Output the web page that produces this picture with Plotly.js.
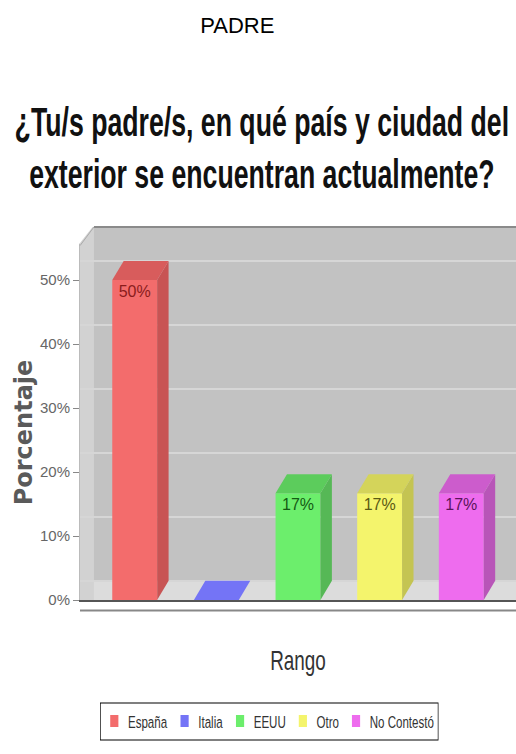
<!DOCTYPE html>
<html><head><meta charset="utf-8">
<script src="https://cdn.plot.ly/plotly-3.0.1.min.js"></script>
<style>html,body{margin:0;padding:0;background:#fff}#chart{width:516px;height:754px}</style>
</head><body><div id="chart"></div>
<script>
const categories = ['España', 'Italia', 'EEUU', 'Otro', 'No Contestó'];
const values = [50, 0, 16.67, 16.67, 16.67];
const frontColors = ['#f36c6c', '#7474f6', '#6cee6c', '#f4f46c', '#ee6cee'];
const sideColors = ['#c85454', '#5a5ad0', '#56b856', '#c4c452', '#b855b8'];
const topColors = ['#d85c5c', '#6a6ae6', '#5ccc5c', '#d4d45a', '#cc5ccc'];
const textColors = ['#8a1c1c', '#1c1c8a', '#145a14', '#5a5a14', '#5a145a'];
const yTickVals = [0, 10, 20, 30, 40, 50];
const yTickText = ['0%', '10%', '20%', '30%', '40%', '50%'];

const SANS = '"Liberation Sans", Arial, sans-serif';
const W = 0.55, DX = 0.14, DY = 3, YMAX = 58.3;
const traces = [];
categories.forEach((c, i) => {
  const v = values[i];
  const xr = i + W / 2, xl = i - W / 2;
  traces.push({type: 'scatter', mode: 'lines', x: [xr, xr, xr + DX, xr + DX, xr], y: [0, v, v + DY, DY, 0],
    fill: 'toself', fillcolor: sideColors[i], line: {width: 0}, showlegend: false, hoverinfo: 'skip'});
  traces.push({type: 'scatter', mode: 'lines', x: [xl, xr, xr + DX, xl + DX, xl], y: [v, v, v + DY, v + DY, v],
    fill: 'toself', fillcolor: v > 0 ? topColors[i] : frontColors[i], line: {width: 0}, showlegend: false, hoverinfo: 'skip'});
});
categories.forEach((c, i) => {
  traces.push({type: 'bar', name: c, x: [i], y: [values[i]], width: W,
    marker: {color: frontColors[i], line: {width: 0}},
    text: [values[i] > 0 ? Math.round(values[i]) + '%' : ''],
    textposition: 'inside', insidetextanchor: 'end',
    textfont: {family: SANS, size: 16, color: textColors[i]}, cliponaxis: false});
});
traces.push({type: 'scatter', x: [], y: [], yaxis: 'y2', showlegend: false, hoverinfo: 'skip'});

const layout = {
  width: 516, height: 754,
  paper_bgcolor: '#ffffff', plot_bgcolor: '#c2c2c2',
  margin: {l: 80, r: 0, t: 227, b: 154},
  barmode: 'overlay', showlegend: true,
  title: {text: 'PADRE', x: 0.46, xanchor: 'center', y: 0.967, yanchor: 'middle',
    font: {family: 'Arial, "Liberation Sans", sans-serif', size: 22, color: '#000'}},
  xaxis: {range: [-0.67, 4.67], showticklabels: false, showgrid: false, zeroline: false,
    showline: true, linecolor: '#555', linewidth: 2, ticks: '', fixedrange: true,
    title: {text: 'Rango', standoff: 50, font: {family: SANS, size: 27, color: '#333'}}},
  yaxis: {range: [0, YMAX], tickvals: yTickVals, ticktext: yTickText, showgrid: false, zeroline: false,
    ticks: 'outside', ticklen: 6, tickcolor: '#888', showline: true, linecolor: '#bbb',
    tickfont: {family: SANS, size: 15, color: '#666'},
    title: {text: '<b>Porcentaje</b>', standoff: 4, font: {family: '"DejaVu Sans", Verdana, sans-serif', size: 24, color: '#5a5a5a'}}},
  yaxis2: {range: [-DY, YMAX - DY], overlaying: 'y', dtick: 10, tick0: 0, showgrid: true, gridcolor: '#d6d6d6',
    gridwidth: 2, showticklabels: false, zeroline: false, ticks: ''},
  shapes: [
    {type: 'rect', xref: 'paper', yref: 'y', x0: 0, x1: 1, y0: 0, y1: DY, fillcolor: '#dcdcdc', line: {width: 0}, layer: 'below'},
    {type: 'rect', xref: 'paper', yref: 'paper', x0: 0, x1: 0.032, y0: 0, y1: 1, fillcolor: '#d2d2d2', line: {width: 0}, layer: 'below'},
    {type: 'path', xref: 'paper', yref: 'paper', path: 'M -0.005 1.005 L 0.032 1.005 L -0.005 0.95 Z', fillcolor: '#ffffff', line: {width: 0}},
    {type: 'line', xref: 'paper', yref: 'paper', x0: 0.032, x1: 1, y0: 1, y1: 1, line: {color: '#8a8a8a', width: 2}},
    {type: 'line', xref: 'paper', yref: 'paper', x0: 0, x1: 0.032, y0: 0.95, y1: 1, line: {color: '#aaaaaa', width: 1}},
    {type: 'line', xref: 'paper', yref: 'paper', x0: 0, x1: 1, y0: -0.028, y1: -0.028, line: {color: '#888', width: 2}}
  ],
  annotations: [
    {text: '<b>¿Tu/s padre/s, en qué país y ciudad del<br>exterior se encuentran actualmente?</b>',
     xref: 'paper', yref: 'paper', x: 0.417, y: 1.212, xanchor: 'center', yanchor: 'middle', showarrow: false,
     font: {family: SANS, size: 40, color: '#111'}, align: 'center'}
  ],
  legend: {orientation: 'h', x: -0.1, xanchor: 'left', y: -0.29, yanchor: 'middle',
    bordercolor: '#000', borderwidth: 1, bgcolor: '#fff',
    font: {family: SANS, size: 17, color: '#333'}, itemwidth: 30, tracegroupgap: 0}
};
Plotly.newPlot('chart', traces, layout, {displayModeBar: false, staticPlot: true}).then(gd => {
  const condense = (el, s, origin) => {
    el.style.transformBox = 'fill-box';
    el.style.transformOrigin = origin || 'center';
    el.style.transform = 'scaleX(' + s.toFixed(3) + ')';
  };
  const t = gd.querySelector('.annotation-text');
  if (t) condense(t, 495 / t.getBBox().width);
  const xt = gd.querySelector('.xtitle');
  if (xt) condense(xt, 0.7);
  const yt = gd.querySelector('.ytitle');
  if (yt && yt.getAttribute('transform')) {
    yt.setAttribute('transform', yt.getAttribute('transform') + ' translate(-19,4)');
  }
  const lg = gd.querySelector('g.legend');
  if (lg) {
    const bg = lg.querySelector('rect.bg');
    const w = parseFloat(bg.getAttribute('width'));
    const h = parseFloat(bg.getAttribute('height'));
    const s = 338 / w;
    lg.setAttribute('transform', 'translate(100,' + (721 - h / 2).toFixed(1) + ') scale(' + s.toFixed(3) + ',1)');
  }
});
</script></body></html>
